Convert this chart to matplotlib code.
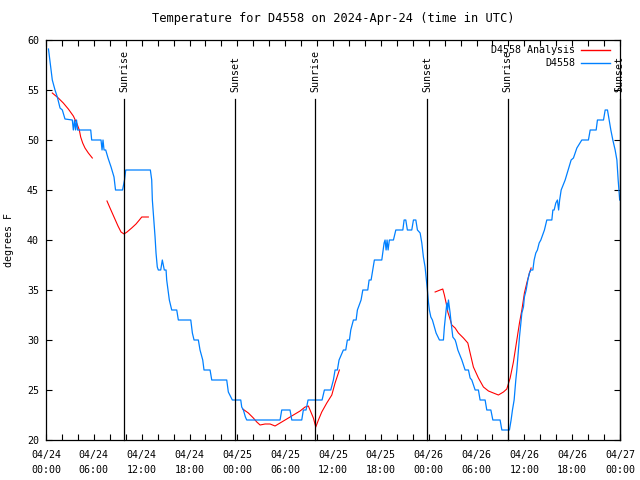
import numpy as np
import matplotlib
matplotlib.use('Agg')
import matplotlib.pyplot as plt
import matplotlib.dates as mdates
from datetime import datetime, timedelta

# hours since 2024-04-24 00:00 UTC
blue_hours = [0.31, 0.79, 1.13, 1.42, 1.76, 2.05, 2.38, 3.30, 3.43, 3.58, 3.70, 3.83, 3.95,
              4.14, 5.61, 5.73, 6.90, 7.03, 7.15, 7.28, 7.49, 7.78, 8.16, 8.53, 8.72, 9.60,
              9.85, 10.00, 13.09, 13.26, 13.34, 13.46, 13.68, 13.80, 13.96, 14.09, 14.39,
              14.59, 14.84, 15.06, 15.14, 15.35, 15.47, 15.77, 16.40, 16.60, 18.16, 18.36,
              18.57, 19.11, 19.32, 19.66, 19.82, 20.58, 20.79, 22.67, 22.87, 23.37, 24.43,
              24.55, 24.76, 25.01, 25.18, 29.36, 29.57, 30.61, 30.83, 32.08, 32.28, 32.62,
              32.87, 33.12, 34.63, 34.92, 35.72, 36.05, 36.26, 36.55, 36.76, 37.30, 37.60,
              37.80, 38.06, 38.23, 38.56, 38.90, 39.06, 39.52, 39.74, 40.36, 40.53, 40.78,
              40.99, 41.19, 42.12, 42.41, 42.53, 42.66, 42.78, 42.91, 43.07, 43.58, 43.88,
              44.76, 44.92, 45.13, 45.33, 45.88, 46.09, 46.39, 46.59, 46.93, 47.14, 47.34,
              47.55, 47.68, 47.84, 47.97, 48.09, 48.27, 48.47, 48.72, 48.93, 49.35, 49.85,
              49.97, 50.15, 50.28, 50.38, 50.48, 50.69, 50.82, 51.03, 51.32, 51.44, 51.66,
              52.16, 52.57, 52.99, 53.20, 53.41, 53.83, 54.24, 54.45, 55.08, 55.29, 55.80,
              56.05, 56.96, 57.18, 58.13, 58.34, 58.51, 58.72, 58.93, 59.06, 59.26, 59.39,
              59.56, 59.69, 59.89, 60.01, 60.23, 60.44, 60.64, 60.82, 61.07, 61.23, 61.44,
              61.64, 61.86, 62.07, 62.52, 62.82, 63.45, 63.58, 63.74, 63.95, 64.15, 64.30,
              64.43, 64.62, 65.12, 65.50, 65.87, 66.16, 66.59, 67.21, 68.04, 68.26, 69.01,
              69.17, 69.93, 70.14, 70.43, 70.64, 70.85, 71.10, 71.39, 71.61, 71.77, 71.96]
blue_temps = [59.1, 56.0, 55.0, 54.3, 53.2, 53.0, 52.1, 52.0, 51.0, 52.0, 51.0, 52.0, 51.0,
              51.0, 51.0, 50.0, 50.0, 49.0, 50.0, 49.0, 49.0, 48.2, 47.3, 46.3, 45.0, 45.0,
              46.0, 47.0, 47.0, 46.0, 44.0, 42.7, 40.3, 38.7, 37.3, 37.0, 37.0,
              38.0, 37.0, 37.0, 36.0, 34.7, 34.0, 33.0, 33.0, 32.0, 32.0, 30.7,
              30.0, 30.0, 29.0, 28.0, 27.0, 27.0, 26.0, 26.0, 24.8, 24.0, 24.0,
              23.3, 23.0, 22.3, 22.0, 22.0, 23.0, 23.0, 22.0, 22.0, 23.0, 23.0,
              24.0, 24.0, 24.0, 25.0, 25.0, 26.0, 27.0, 27.0, 28.0, 29.0, 29.0,
              30.0, 30.0, 31.0, 32.0, 32.0, 33.0, 34.0, 35.0, 35.0, 36.0, 36.0,
              37.0, 38.0, 38.0, 39.7, 40.0, 39.0, 40.0, 39.0, 40.0, 40.0, 41.0,
              41.0, 42.0, 42.0, 41.0, 41.0, 42.0, 42.0, 41.0, 40.7, 39.7, 38.3,
              37.3, 36.3, 35.0, 33.8, 33.0, 32.3, 32.0, 31.3, 30.7, 30.0, 30.0,
              31.3, 32.7, 33.7, 33.0, 34.0, 32.7, 31.7, 30.3, 30.0, 29.7, 29.0,
              28.0, 27.0, 27.0, 26.2, 26.0, 25.0, 25.0, 24.0, 24.0, 23.0, 23.0,
              22.0, 22.0, 21.0, 21.0, 22.0, 23.0, 24.0, 26.0, 27.0, 29.0, 30.3,
              31.7, 32.7, 33.3, 34.3, 35.0, 36.0, 36.7, 37.0, 37.0, 38.0, 38.7,
              39.0, 39.7, 40.0, 41.0, 42.0, 42.0, 43.0, 43.0, 43.7, 44.0, 43.0,
              44.0, 45.0, 46.0, 47.0, 48.0, 48.2, 49.2, 50.0, 50.0, 51.0, 51.0,
              52.0, 52.0, 53.0, 53.0, 52.0, 51.0, 50.0, 49.0, 48.0, 46.0, 44.0]

# analysis series, nan = gap
red_hours = [0.79, 1.54, 2.17, 2.80, 3.43, 3.85, 4.18, 4.35, 4.60, 4.89, 5.31, 5.81, 6.5,
             7.65, 8.03, 8.53, 9.03, 9.41, 9.79, 10.16, 10.75, 11.29, 11.71, 12.01, 12.84, 18.0,
             24.68, 25.38, 26.01, 26.44, 26.85, 27.48, 28.11, 28.73, 29.36, 30.20, 31.03,
             31.87, 32.50, 32.91, 33.12, 33.54, 33.84, 34.17, 34.59, 35.22, 35.85, 36.26,
             36.80, 42.0,
             48.81, 49.44, 49.77, 49.97, 50.19, 50.40, 50.60, 50.90, 51.32, 51.73, 52.36,
             52.91, 53.20, 53.61, 54.24, 54.87, 55.50, 56.12, 56.75, 57.38, 57.80, 58.22,
             58.63, 59.06, 59.39, 59.69, 60.01, 60.31, 60.64, 60.85]
red_temps = [54.7, 54.2, 53.7, 53.1, 52.4, 51.7, 51.0, 50.3, 49.7, 49.2, 48.7, 48.2, np.nan,
             43.9, 43.2, 42.3, 41.4, 40.8, 40.6, 40.8, 41.2, 41.6, 42.0, 42.3, 42.3, np.nan,
             23.1, 22.7, 22.2, 21.8, 21.5, 21.6, 21.6, 21.4, 21.7, 22.1, 22.5,
             22.9, 23.3, 23.4, 23.0, 22.2, 21.3, 22.0, 22.8, 23.7, 24.5, 25.7,
             27.0, np.nan,
             34.8, 35.0, 35.1, 34.5, 33.7, 32.8, 32.3, 31.5, 31.2, 30.7, 30.2,
             29.7, 28.7, 27.3, 26.2, 25.3, 24.9, 24.7, 24.5, 24.8, 25.1, 26.2,
             27.8, 30.0, 31.7, 33.0, 34.7, 35.7, 36.7, 37.2]

sun_hours = [9.82, 23.75, 33.79, 47.84, 57.89, 71.95]
sun_labels = ['Sunrise', 'Sunset', 'Sunrise', 'Sunset', 'Sunrise', 'Sunset']

start = datetime(2024, 4, 24)
def to_time(hours):
    return [start + timedelta(hours=h) for h in hours]

plt.rcParams['font.family'] = 'DejaVu Sans Mono'
plt.rcParams['font.size'] = 7.2

fig = plt.figure(figsize=(6.4, 4.8), dpi=100)
ax = fig.add_axes([46/640, 40/480, 574/640, 400/480])

red_line, = ax.plot(to_time(red_hours), red_temps, color='#ff0000', lw=0.8)
blue_line, = ax.plot(to_time(blue_hours), blue_temps, color='#0080ff', lw=0.9)

# sunrise / sunset markers
for h, lab in zip(sun_hours, sun_labels):
    t = start + timedelta(hours=h)
    ax.plot([t, t], [0, 0.8525], color='black', lw=0.9,
            transform=ax.get_xaxis_transform(), clip_on=False)
    ax.text(t, 0.87, lab, rotation=90, ha='center', va='bottom',
            transform=ax.get_xaxis_transform())

ax.set_xlim(start, start + timedelta(hours=72))
ax.set_ylim(20, 60)
ax.set_yticks(np.arange(20, 61, 5))
ax.xaxis.set_major_locator(mdates.HourLocator(byhour=[0, 6, 12, 18]))
ax.xaxis.set_minor_locator(mdates.HourLocator(byhour=range(0, 24, 2)))
ax.xaxis.set_major_formatter(mdates.DateFormatter('%m/%d\n%H:%M'))
ax.tick_params(which='both', direction='in', top=True, right=True, length=4, width=0.8)
ax.tick_params(axis='x', pad=7)
ax.tick_params(axis='y', pad=5)
for lbl in ax.get_xticklabels():
    lbl.set_linespacing(1.6)
for s in ax.spines.values():
    s.set_linewidth(0.9)

ax.set_ylabel('degrees F')
ax.yaxis.set_label_coords(-0.055, 0.5)
ax.set_title('Temperature for D4558 on 2024-Apr-24 (time in UTC)', pad=13)

# gnuplot-style key: right-aligned text, sample line to the right
key = [('D4558 Analysis', red_line), ('D4558', blue_line)]
for i, (lab, ln) in enumerate(key):
    yk = 0.975 - i * 0.0325
    ax.text(0.922, yk, lab, transform=ax.transAxes, ha='right', va='center')
    ax.plot([0.932, 0.983], [yk, yk], transform=ax.transAxes,
            color=ln.get_color(), lw=1.0)

fig.savefig('out.png', dpi=100)
